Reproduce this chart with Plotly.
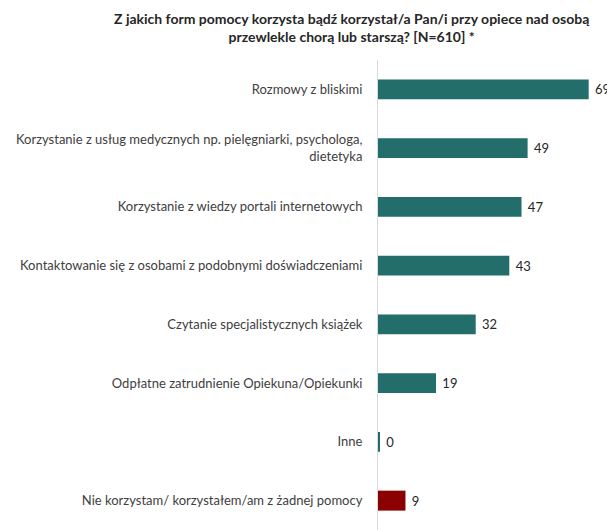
import plotly.graph_objects as go

categories = [
    "Rozmowy z bliskimi",
    "Korzystanie z usług medycznych np. pielęgniarki, psychologa,<br>dietetyka",
    "Korzystanie z wiedzy portali internetowych",
    "Kontaktowanie się z osobami z podobnymi doświadczeniami",
    "Czytanie specjalistycznych książek",
    "Odpłatne zatrudnienie Opiekuna/Opiekunki",
    "Inne",
    "Nie korzystam/ korzystałem/am z żadnej pomocy",
]
values = [69, 49, 47, 43, 32, 19, 0.4, 9]
colors = ["#236e6a"] * 7 + ["#8b0000"]

font_family = "Lato, 'Noto Sans', sans-serif"

fig = go.Figure()

fig.add_trace(go.Bar(
    x=values,
    y=categories,
    orientation="h",
    marker=dict(color=colors, line=dict(width=0)),
    texttemplate=" %{x:.0f}",
    textposition="outside",
    textfont=dict(size=13, color="#262626", family=font_family),
    cliponaxis=False,
))

# tytuł jako adnotacja nad wykresem
fig.add_annotation(
    text="<b>Z jakich form pomocy korzysta bądź korzystał/a Pan/i przy opiece nad osobą<br>przewlekle chorą lub starszą? [N=610] *</b>",
    xref="paper", yref="paper",
    x=(352 - 378) / 229, y=1 + 52 / 470,
    xanchor="center", yanchor="top",
    showarrow=False,
    align="center",
    font=dict(size=14, color="#262626", family=font_family),
)

# strona ma 8 px marginesu body, stąd mniejsza figura
fig.update_layout(
    width=607,
    height=522,
    paper_bgcolor="white",
    plot_bgcolor="white",
    margin=dict(l=370, r=8, t=52, b=0, autoexpand=False),
    bargap=0.66,
    showlegend=False,
    font=dict(family=font_family, size=13, color="#404040"),
    xaxis=dict(
        range=[0, 75],
        showgrid=False,
        showticklabels=False,
        zeroline=False,
        showline=False,
        automargin=False,
    ),
    yaxis=dict(
        autorange="reversed",
        showline=True,
        linecolor="#d9d9d9",
        linewidth=1,
        ticks="",
        ticklabelstandoff=12,
        automargin=False,
        tickfont=dict(size=13, color="#404040"),
    ),
)

fig.write_html("out.html")
